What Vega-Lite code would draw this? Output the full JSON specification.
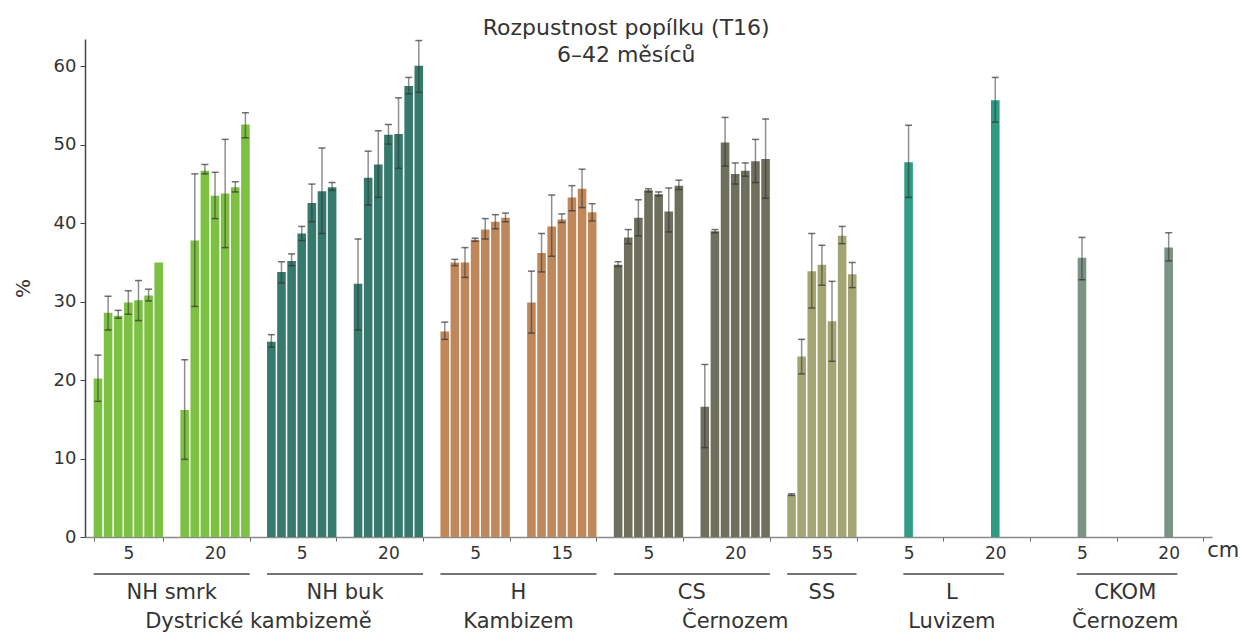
{
  "$schema": "https://vega.github.io/schema/vega-lite/v6.json",
  "width": 1127,
  "height": 498,
  "autosize": {"type": "none"},
  "padding": {"left": 85, "top": 39, "right": 28, "bottom": 97},
  "background": "white",
  "title": {
    "text": ["Rozpustnost popílku (T16)", "6–42 měsíců"],
    "anchor": "middle",
    "frame": "bounds",
    "baseline": "top",
    "offset": -28,
    "fontSize": 22,
    "font": "DejaVu Sans",
    "fontWeight": "normal",
    "color": "#333333",
    "lineHeight": 27
  },
  "config": {"view": {"stroke": null}, "font": "DejaVu Sans"},
  "datasets": {
    "bars": [
      {"s": "NH smrk", "g": "NH smrk|5", "t": "6", "v": 20.2, "lo": 17.3, "hi": 23.2},
      {"s": "NH smrk", "g": "NH smrk|5", "t": "12", "v": 28.6, "lo": 26.4, "hi": 30.7},
      {"s": "NH smrk", "g": "NH smrk|5", "t": "18", "v": 28.2, "lo": 27.9, "hi": 28.9},
      {"s": "NH smrk", "g": "NH smrk|5", "t": "24", "v": 29.9, "lo": 28.4, "hi": 31.4},
      {"s": "NH smrk", "g": "NH smrk|5", "t": "30", "v": 30.2, "lo": 27.6, "hi": 32.7},
      {"s": "NH smrk", "g": "NH smrk|5", "t": "36", "v": 30.8, "lo": 30.1, "hi": 31.6},
      {"s": "NH smrk", "g": "NH smrk|5", "t": "42", "v": 35.0},
      {"s": "NH smrk", "g": "NH smrk|20", "t": "6", "v": 16.2, "lo": 9.9, "hi": 22.6},
      {"s": "NH smrk", "g": "NH smrk|20", "t": "12", "v": 37.8, "lo": 29.4, "hi": 46.3},
      {"s": "NH smrk", "g": "NH smrk|20", "t": "18", "v": 46.7, "lo": 46.3, "hi": 47.5},
      {"s": "NH smrk", "g": "NH smrk|20", "t": "24", "v": 43.5, "lo": 40.6, "hi": 46.5},
      {"s": "NH smrk", "g": "NH smrk|20", "t": "30", "v": 43.8, "lo": 36.9, "hi": 50.7},
      {"s": "NH smrk", "g": "NH smrk|20", "t": "36", "v": 44.6, "lo": 44.0, "hi": 45.3},
      {"s": "NH smrk", "g": "NH smrk|20", "t": "42", "v": 52.6, "lo": 50.9, "hi": 54.1},
      {"s": "NH buk", "g": "NH buk|5", "t": "6", "v": 24.9, "lo": 24.2, "hi": 25.8},
      {"s": "NH buk", "g": "NH buk|5", "t": "12", "v": 33.8, "lo": 32.4, "hi": 35.1},
      {"s": "NH buk", "g": "NH buk|5", "t": "18", "v": 35.2, "lo": 34.6, "hi": 36.1},
      {"s": "NH buk", "g": "NH buk|5", "t": "24", "v": 38.7, "lo": 37.8, "hi": 39.6},
      {"s": "NH buk", "g": "NH buk|5", "t": "30", "v": 42.6, "lo": 40.2, "hi": 45.0},
      {"s": "NH buk", "g": "NH buk|5", "t": "36", "v": 44.1, "lo": 38.7, "hi": 49.6},
      {"s": "NH buk", "g": "NH buk|5", "t": "42", "v": 44.6, "lo": 44.2, "hi": 45.2},
      {"s": "NH buk", "g": "NH buk|20", "t": "6", "v": 32.3, "lo": 26.4, "hi": 38.0},
      {"s": "NH buk", "g": "NH buk|20", "t": "12", "v": 45.8, "lo": 42.3, "hi": 49.2},
      {"s": "NH buk", "g": "NH buk|20", "t": "18", "v": 47.5, "lo": 43.3, "hi": 51.8},
      {"s": "NH buk", "g": "NH buk|20", "t": "24", "v": 51.3, "lo": 50.1, "hi": 52.6},
      {"s": "NH buk", "g": "NH buk|20", "t": "30", "v": 51.4, "lo": 47.0, "hi": 56.0},
      {"s": "NH buk", "g": "NH buk|20", "t": "36", "v": 57.5, "lo": 56.5, "hi": 58.6},
      {"s": "NH buk", "g": "NH buk|20", "t": "42", "v": 60.1, "lo": 56.7, "hi": 63.3},
      {"s": "H", "g": "H|5", "t": "6", "v": 26.2, "lo": 25.2, "hi": 27.4},
      {"s": "H", "g": "H|5", "t": "12", "v": 35.0, "lo": 34.6, "hi": 35.4},
      {"s": "H", "g": "H|5", "t": "18", "v": 35.0, "lo": 33.1, "hi": 36.9},
      {"s": "H", "g": "H|5", "t": "24", "v": 37.9, "lo": 37.7, "hi": 38.1},
      {"s": "H", "g": "H|5", "t": "30", "v": 39.2, "lo": 38.0, "hi": 40.6},
      {"s": "H", "g": "H|5", "t": "36", "v": 40.2, "lo": 39.3, "hi": 41.1},
      {"s": "H", "g": "H|5", "t": "42", "v": 40.7, "lo": 40.2, "hi": 41.3},
      {"s": "H", "g": "H|15", "t": "6", "v": 29.9, "lo": 26.0, "hi": 33.9},
      {"s": "H", "g": "H|15", "t": "12", "v": 36.2, "lo": 33.8, "hi": 38.7},
      {"s": "H", "g": "H|15", "t": "18", "v": 39.6, "lo": 35.8, "hi": 43.6},
      {"s": "H", "g": "H|15", "t": "24", "v": 40.5, "lo": 40.1, "hi": 41.2},
      {"s": "H", "g": "H|15", "t": "30", "v": 43.3, "lo": 41.6, "hi": 44.8},
      {"s": "H", "g": "H|15", "t": "36", "v": 44.4, "lo": 42.0, "hi": 46.9},
      {"s": "H", "g": "H|15", "t": "42", "v": 41.4, "lo": 40.3, "hi": 42.5},
      {"s": "CS", "g": "CS|5", "t": "6", "v": 34.7, "lo": 34.5, "hi": 35.1},
      {"s": "CS", "g": "CS|5", "t": "12", "v": 38.2, "lo": 37.4, "hi": 39.2},
      {"s": "CS", "g": "CS|5", "t": "18", "v": 40.7, "lo": 38.4, "hi": 43.0},
      {"s": "CS", "g": "CS|5", "t": "24", "v": 44.2, "lo": 44.0, "hi": 44.4},
      {"s": "CS", "g": "CS|5", "t": "30", "v": 43.7, "lo": 43.5, "hi": 44.0},
      {"s": "CS", "g": "CS|5", "t": "36", "v": 41.5, "lo": 38.9, "hi": 44.5},
      {"s": "CS", "g": "CS|5", "t": "42", "v": 44.8, "lo": 44.3, "hi": 45.5},
      {"s": "CS", "g": "CS|20", "t": "6", "v": 16.6, "lo": 11.4, "hi": 22.0},
      {"s": "CS", "g": "CS|20", "t": "12", "v": 39.0, "lo": 38.8, "hi": 39.2},
      {"s": "CS", "g": "CS|20", "t": "18", "v": 50.3, "lo": 47.3, "hi": 53.5},
      {"s": "CS", "g": "CS|20", "t": "24", "v": 46.3, "lo": 45.0, "hi": 47.7},
      {"s": "CS", "g": "CS|20", "t": "30", "v": 46.7, "lo": 46.0, "hi": 47.7},
      {"s": "CS", "g": "CS|20", "t": "36", "v": 47.9, "lo": 45.2, "hi": 50.7},
      {"s": "CS", "g": "CS|20", "t": "42", "v": 48.2, "lo": 43.2, "hi": 53.3},
      {"s": "SS", "g": "SS|55", "t": "6", "v": 5.4, "lo": 5.3, "hi": 5.5},
      {"s": "SS", "g": "SS|55", "t": "12", "v": 23.0, "lo": 20.8, "hi": 25.2},
      {"s": "SS", "g": "SS|55", "t": "18", "v": 33.9, "lo": 29.2, "hi": 38.7},
      {"s": "SS", "g": "SS|55", "t": "24", "v": 34.7, "lo": 32.1, "hi": 37.2},
      {"s": "SS", "g": "SS|55", "t": "30", "v": 27.5, "lo": 22.4, "hi": 32.6},
      {"s": "SS", "g": "SS|55", "t": "36", "v": 38.4, "lo": 37.4, "hi": 39.6},
      {"s": "SS", "g": "SS|55", "t": "42", "v": 33.5, "lo": 31.8, "hi": 35.0},
      {"s": "L", "g": "L|5", "t": "24", "v": 47.8, "lo": 43.3, "hi": 52.5},
      {"s": "L", "g": "L|20", "t": "24", "v": 55.7, "lo": 52.9, "hi": 58.6},
      {"s": "CKOM", "g": "CKOM|5", "t": "24", "v": 35.6, "lo": 32.8, "hi": 38.2},
      {"s": "CKOM", "g": "CKOM|20", "t": "24", "v": 36.9, "lo": 35.2, "hi": 38.8}
    ],
    "sites": [
      {"label": "NH smrk", "from": 0.1, "to": 1.9, "mid": 1.0},
      {"label": "NH buk", "from": 2.1, "to": 3.9, "mid": 3.0},
      {"label": "H", "from": 4.1, "to": 5.9, "mid": 5.0},
      {"label": "CS", "from": 6.1, "to": 7.9, "mid": 7.0},
      {"label": "SS", "from": 8.1, "to": 8.9, "mid": 8.5},
      {"label": "L", "from": 9.44, "to": 10.6, "mid": 10.0},
      {"label": "CKOM", "from": 11.44, "to": 12.6, "mid": 12.0}
    ],
    "soils": [
      {"label": "Dystrické kambizemě", "mid": 2.0},
      {"label": "Kambizem", "mid": 5.0},
      {"label": "Černozem", "mid": 7.5},
      {"label": "Luvizem", "mid": 10.0},
      {"label": "Černozem", "mid": 12.0}
    ],
    "unit": [
      {"label": "cm", "mid": 13.13}
    ]
  },
  "resolve": {"scale": {"x": "independent"}, "axis": {"x": "independent"}},
  "layer": [
    {
      "data": {"name": "bars"},
      "encoding": {
        "x": {
          "field": "g",
          "type": "nominal",
          "sort": null,
          "scale": {
            "domain": ["NH smrk|5", "NH smrk|20", "NH buk|5", "NH buk|20", "H|5", "H|15", "CS|5", "CS|20", "SS|55", "L|5", "L|20", "CKOM|5", "CKOM|20"],
            "paddingInner": 0.2,
            "paddingOuter": 0.1
          },
          "axis": {
            "title": null,
            "labelExpr": "split(datum.label, '|')[1]",
            "tickBand": "extent",
            "labelAngle": 0,
            "domainColor": "#8a8a8a",
            "domainWidth": 1.5,
            "tickColor": "#666666",
            "tickSize": 4,
            "tickWidth": 1,
            "labelFontSize": 17,
            "labelPadding": 4,
            "labelColor": "#333333",
            "labelFont": "DejaVu Sans"
          }
        },
        "xOffset": {
          "field": "t",
          "type": "nominal",
          "sort": null,
          "scale": {"domain": ["6", "12", "18", "24", "30", "36", "42"], "paddingInner": 0.15}
        }
      },
      "layer": [
        {
          "mark": {"type": "bar"},
          "encoding": {
            "y": {
              "field": "v",
              "type": "quantitative",
              "scale": {"domain": [0, 63.5], "nice": false, "zero": true},
              "axis": {
                "title": "%",
                "titleFontSize": 20,
                "titleFont": "DejaVu Sans",
                "titleFontWeight": "normal",
                "titleColor": "#333333",
                "titlePadding": 20,
                "values": [0, 10, 20, 30, 40, 50, 60],
                "labelFontSize": 18,
                "labelColor": "#333333",
                "labelFont": "DejaVu Sans",
                "tickSize": 5,
                "tickColor": "#444444",
                "domainColor": "#444444",
                "domainWidth": 1.5,
                "grid": false,
                "labelPadding": 4
              }
            },
            "color": {
              "field": "s",
              "type": "nominal",
              "scale": {
                "domain": ["NH smrk", "NH buk", "H", "CS", "SS", "L", "CKOM"],
                "range": ["#7cc142", "#357a6c", "#c0875a", "#6e6f5d", "#a4a574", "#2f9b83", "#7a9385"]
              },
              "legend": null
            }
          }
        },
        {
          "transform": [{"filter": "isValid(datum.lo)"}],
          "mark": {"type": "rule", "color": "#333333", "opacity": 0.55, "strokeWidth": 1.5},
          "encoding": {
            "y": {"field": "lo", "type": "quantitative"},
            "y2": {"field": "hi"}
          }
        },
        {
          "transform": [{"filter": "isValid(datum.lo)"}],
          "mark": {"type": "tick", "orient": "horizontal", "color": "#333333", "opacity": 0.7, "thickness": 1.5, "size": 7},
          "encoding": {"y": {"field": "lo", "type": "quantitative"}}
        },
        {
          "transform": [{"filter": "isValid(datum.hi)"}],
          "mark": {"type": "tick", "orient": "horizontal", "color": "#333333", "opacity": 0.7, "thickness": 1.5, "size": 7},
          "encoding": {"y": {"field": "hi", "type": "quantitative"}}
        }
      ]
    },
    {
      "encoding": {
        "x": {"field": "mid", "type": "quantitative", "scale": {"domain": [0, 13], "nice": false, "zero": false}, "axis": null}
      },
      "layer": [
        {
          "data": {"name": "sites"},
          "mark": {"type": "rule", "color": "#444444", "strokeWidth": 1.5},
          "encoding": {
            "x": {"field": "from", "type": "quantitative", "scale": {"domain": [0, 13], "nice": false, "zero": false}, "axis": null},
            "x2": {"field": "to"},
            "y": {"datum": -4.72, "type": "quantitative"}
          }
        },
        {
          "data": {"name": "sites"},
          "mark": {"type": "text", "fontSize": 21, "font": "DejaVu Sans", "color": "#333333", "baseline": "middle", "align": "center"},
          "encoding": {
            "y": {"datum": -7.1, "type": "quantitative"},
            "text": {"field": "label"}
          }
        },
        {
          "data": {"name": "soils"},
          "mark": {"type": "text", "fontSize": 21, "font": "DejaVu Sans", "color": "#333333", "baseline": "middle", "align": "center"},
          "encoding": {
            "y": {"datum": -10.8, "type": "quantitative"},
            "text": {"field": "label"}
          }
        },
        {
          "data": {"name": "unit"},
          "mark": {"type": "text", "fontSize": 21, "font": "DejaVu Sans", "color": "#333333", "baseline": "middle", "align": "center"},
          "encoding": {
            "y": {"datum": -1.75, "type": "quantitative"},
            "text": {"field": "label"}
          }
        }
      ]
    }
  ]
}
